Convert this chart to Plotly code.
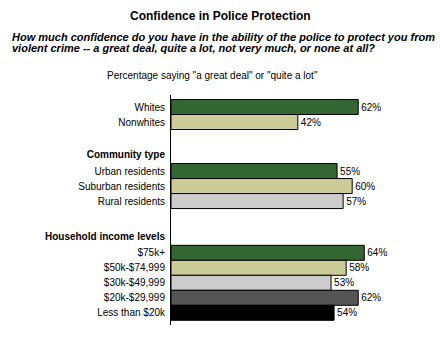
import plotly.graph_objects as go

# Survey results: share saying "a great deal" or "quite a lot"
race_labels = ["Whites", "Nonwhites"]
race_values = [62, 42]

community_labels = ["Urban residents", "Suburban residents", "Rural residents"]
community_values = [55, 60, 57]

income_labels = ["$75k+", "$50k-$74,999", "$30k-$49,999", "$20k-$29,999", "Less than $20k"]
income_values = [64, 58, 53, 62, 54]

group_headers = ["", "Community type", "Household income levels"]

# Fill colours by position within a group
palette = ["#336633", "#CCCC99", "#CCCCCC", "#555555", "#000000"]

FONT = "Arial, Liberation Sans, sans-serif"

groups = [
    (group_headers[0], race_labels, race_values),
    (group_headers[1], community_labels, community_values),
    (group_headers[2], income_labels, income_values),
]
# space (in rows) from the last bar of a group to the first bar of the next
group_gaps = [0, 3.27, 3.45]
header_offset = 1.12

ys, xs, cols, tickvals, ticktext = [], [], [], [], []
pos = 0.0
for gi, (header, labels, values) in enumerate(groups):
    pos = pos + group_gaps[gi] if gi else 0.0
    if header:
        tickvals.append(pos - header_offset)
        ticktext.append(f"<b>{header}</b>")
    for i, (lab, val) in enumerate(zip(labels, values)):
        ys.append(pos)
        xs.append(val)
        cols.append(palette[i])
        tickvals.append(pos)
        ticktext.append(lab)
        pos += 1
    pos -= 1

fig = go.Figure(
    go.Bar(
        x=xs,
        y=ys,
        orientation="h",
        width=1.0,
        marker=dict(color=cols, line=dict(color="#000000", width=1)),
        text=[f"{v}%" for v in xs],
        textposition="outside",
        textfont=dict(family=FONT, size=10, color="#000000"),
        cliponaxis=False,
        hoverinfo="skip",
    )
)

ML, MR, MT, MB = 171, 29, 95, 15
W, H = 440, 340
plot_w = W - ML - MR
plot_h = H - MT - MB


def header_text(text, px, py, size, anchor="center"):
    """Place a text block by its pixel position on the page."""
    return dict(
        text=text,
        x=(px - ML) / plot_w,
        y=1 - (py - MT) / plot_h,
        xref="paper",
        yref="paper",
        xanchor=anchor,
        yanchor="middle",
        showarrow=False,
        font=dict(family=FONT, size=size, color="#000000"),
    )


fig.update_layout(
    width=W,
    height=H,
    margin=dict(l=ML, r=MR, t=MT, b=MB),
    paper_bgcolor="#FFFFFF",
    plot_bgcolor="#FFFFFF",
    showlegend=False,
    font=dict(family=FONT, size=10, color="#000000"),
    xaxis=dict(
        range=[0, plot_w / 3.02],
        showgrid=False,
        zeroline=False,
        showline=False,
        showticklabels=False,
        ticks="",
        fixedrange=True,
    ),
    yaxis=dict(
        range=[14.533, -0.8],
        tickvals=tickvals,
        ticktext=ticktext,
        showgrid=False,
        zeroline=False,
        showline=True,
        linecolor="#000000",
        linewidth=1,
        ticks="",
        ticklabelstandoff=3,
        tickfont=dict(family=FONT, size=10, color="#000000"),
        fixedrange=True,
    ),
    annotations=[
        header_text("<b>Confidence in Police Protection</b>", 220, 16, 12),
        header_text(
            "<b><i>How much confidence do you have in the ability of the police to protect you from</i></b>",
            10, 37, 11, "left",
        ),
        header_text(
            "<b><i>violent crime -- a great deal, quite a lot, not very much, or none at all?</i></b>",
            10, 48, 11, "left",
        ),
        header_text('Percentage saying "a great deal" or "quite a lot"', 212.5, 75, 10),
    ],
)

fig.write_html("out.html")
